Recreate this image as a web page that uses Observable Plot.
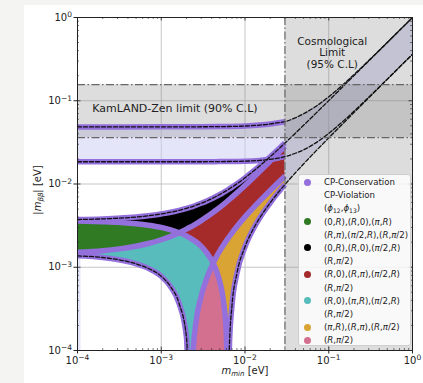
<!DOCTYPE html>
<html><head><meta charset="utf-8">
<script src="https://cdn.jsdelivr.net/npm/d3@7"></script>
<script src="https://cdn.jsdelivr.net/npm/@observablehq/plot@0.6"></script>
<style>
html,body{margin:0;padding:0;width:423px;height:383px;overflow:hidden;background:#f4f4f2;font-family:"DejaVu Sans",sans-serif;}
#card{position:absolute;left:24px;top:5px;width:399px;height:378px;background:#fff;}
#chart{position:absolute;left:0;top:0;}
.lab{position:absolute;color:#222;font-size:10px;white-space:nowrap;line-height:12px;}
.lab sub, #legend sub{font-size:70%;vertical-align:-0.3em;line-height:0;}
#xlab{left:245px;top:365px;transform:translateX(-50%);}
#ylab{left:38px;top:190px;transform:translate(-50%,-50%) rotate(-90deg);}
#legend{position:absolute;left:298px;top:174px;width:113px;height:172px;background:rgba(255,255,255,0.82);border:1px solid #cfcfcf;border-radius:3px;box-sizing:border-box;font-size:8.6px;color:#222;}
.lrow{position:absolute;left:0;height:12px;line-height:12px;white-space:nowrap;}
.lmark{position:absolute;left:5px;top:2.5px;width:7px;height:7px;border-radius:50%;}
.ltext{position:absolute;left:25px;top:0;}
</style></head><body>
<div id="card"></div>
<div id="chart"></div>
<div id="legend"></div>
<div class="lab" id="xlab"><i>m</i><sub><i>min</i></sub> [eV]</div>
<div class="lab" id="ylab">|<i>m</i><sub><i>ββ</i></sub>| [eV]</div>
<script>
// ---------- data ----------
const xTicks = [1e-4, 1e-3, 1e-2, 1e-1, 1];
const yTicks = [1e-4, 1e-3, 1e-2, 1e-1, 1];
const tickBase = "10";
const tickExponents = ["−4", "−3", "−2", "−1", "0"];

// Normal ordering, m_min < cosmological limit: four CP-conserving curves
const noMmin = [1e-4, 2e-4, 3e-4, 5e-4, 7e-4, 1e-3, 1.3e-3, 1.63e-3, 2e-3, 2.2e-3, 2.4e-3, 2.6e-3, 3e-3, 3.5e-3, 4.17e-3, 4.5e-3, 5e-3, 5.5e-3, 6e-3, 6.3e-3, 6.5e-3, 7e-3, 8e-3, 1e-2, 1.3e-2, 1.6e-2, 2e-2, 2.5e-2, 3e-2];
const noCP00 = [3.74e-3, 3.81e-3, 3.88e-3, 4.01e-3, 4.15e-3, 4.37e-3, 4.58e-3, 4.83e-3, 5.10e-3, 5.25e-3, 5.40e-3, 5.56e-3, 5.87e-3, 6.26e-3, 6.80e-3, 7.07e-3, 7.48e-3, 7.90e-3, 8.32e-3, 8.58e-3, 8.75e-3, 9.18e-3, 1.006e-2, 1.186e-2, 1.463e-2, 1.746e-2, 2.129e-2, 2.612e-2, 3.10e-2];
const noCPpp = [3.60e-3, 3.53e-3, 3.47e-3, 3.33e-3, 3.20e-3, 3.01e-3, 2.81e-3, 2.60e-3, 2.38e-3, 2.25e-3, 2.13e-3, 2.02e-3, 1.78e-3, 1.49e-3, 1.12e-3, 0.94e-3, 0.67e-3, 0.41e-3, 0.15e-3, 1e-5, 1.06e-4, 3.5e-4, 8.4e-4, 1.76e-3, 3.07e-3, 4.33e-3, 5.95e-3, 7.93e-3, 9.86e-3];
const noCPp0 = [1.37e-3, 1.31e-3, 1.24e-3, 1.10e-3, 0.97e-3, 0.78e-3, 0.58e-3, 0.37e-3, 1.44e-4, 1e-5, 0.98e-4, 2.2e-4, 4.5e-4, 7.4e-4, 1.12e-3, 1.30e-3, 1.57e-3, 1.83e-3, 2.09e-3, 2.24e-3, 2.34e-3, 2.59e-3, 3.08e-3, 4.03e-3, 5.37e-3, 6.67e-3, 8.35e-3, 1.042e-2, 1.246e-2];
const noCP0p = [1.51e-3, 1.58e-3, 1.65e-3, 1.79e-3, 1.93e-3, 2.14e-3, 2.35e-3, 2.60e-3, 2.87e-3, 3.02e-3, 3.17e-3, 3.32e-3, 3.63e-3, 4.03e-3, 4.57e-3, 4.83e-3, 5.24e-3, 5.66e-3, 6.08e-3, 6.34e-3, 6.51e-3, 6.94e-3, 7.82e-3, 9.59e-3, 1.233e-2, 1.512e-2, 1.889e-2, 2.363e-2, 2.840e-2];

// Inverted ordering, m_min < cosmological limit
const ioMmin = [1e-4, 1e-3, 3e-3, 5e-3, 1e-2, 1.5e-2, 2e-2, 2.5e-2, 3e-2];
const ioMax = [0.0485, 0.0486, 0.0487, 0.0489, 0.0497, 0.0510, 0.0526, 0.0545, 0.0560];
const ioMin = [0.0185, 0.0185, 0.0185, 0.0186, 0.0188, 0.0192, 0.0198, 0.0205, 0.0213];

// Both orderings above the cosmological limit (dashed only)
const hiMmin = [0.03, 0.04, 0.05, 0.07, 0.1, 0.15, 0.2, 0.3, 0.5, 0.7, 1];
const hiNoMax = [0.0310, 0.0408, 0.0507, 0.0705, 0.1004, 0.1503, 0.2002, 0.3002, 0.5002, 0.7002, 1.0002];
const hiNoMin = [0.00986, 0.01366, 0.01741, 0.02481, 0.03581, 0.05402, 0.07217, 0.1084, 0.1808, 0.2532, 0.3618];
const hiIoMax = [0.0560, 0.0625, 0.0698, 0.0853, 0.1115, 0.1579, 0.2060, 0.3041, 0.5025, 0.7019, 1.0014];
const hiIoMin = [0.0213, 0.0234, 0.0257, 0.0312, 0.0406, 0.0573, 0.0746, 0.1101, 0.1818, 0.2539, 0.3623];

const kamlandLimits = [0.036, 0.156];
const cosmoLimit = [0.03];
const noEdgeBand = [{x1: 1e-4, x2: 1.1e-4, y1: 1e-4, y2: 1.4e-3}];

const legendLabels = ["CP-Conservation", "CP-Violation", "(ϕ_12,ϕ_13)", "(0,R),(R,0),(π,R)", "(R,π),(π/2,R),(R,π/2)", "(0,R),(R,0),(π/2,R)", "(R,π/2)", "(R,0),(R,π),(π/2,R)", "(R,π/2)", "(R,0),(π,R),(π/2,R)", "(R,π/2)", "(π,R),(R,π),(R,π/2)", "(R,π/2)"];
const legendKeys = ["cp", null, null, "green", null, "black", null, "red", null, "cyan", null, "gold", "pink"];

// ---------- styles ----------
const col = {cp: "#9370db", green: "#2f7a22", black: "#000000", red: "#a52a2a", cyan: "#58bcbc", gold: "#d9a433", pink: "#d4708f"};
const W = 423, H = 383, mL = 77, mR = 11, mT = 17, mB = 33;
const plotW = W - mL - mR, plotH = H - mT - mB;
const FLOOR = 1e-5;

// ---------- tables ----------
const noRows = noMmin.map((x, i) => ({x, c00: noCP00[i], cpp: noCPpp[i], cp0: noCPp0[i], c0p: noCP0p[i]}));
const ioRows = ioMmin.map((x, i) => ({x, hi: ioMax[i], lo: ioMin[i]}));
const hiRows = hiMmin.map((x, i) => ({x, noHi: hiNoMax[i], noLo: hiNoMin[i], ioHi: hiIoMax[i], ioLo: hiIoMin[i]}));
const cuspL = noRows.find(d => d.cp0 === d3.min(noRows, r => r.cp0)).x;
const cuspR = noRows.find(d => d.cpp === d3.min(noRows, r => r.cpp)).x;

const noUpperDash = noRows.map(d => ({x: d.x, y: d.c00})).concat(hiRows.slice(1).map(d => ({x: d.x, y: d.noHi})));
const noLowerDashA = noRows.filter(d => d.x <= cuspL).map(d => ({x: d.x, y: d.cp0}));
const noLowerDashB = noRows.filter(d => d.x >= cuspR).map(d => ({x: d.x, y: d.cpp})).concat(hiRows.slice(1).map(d => ({x: d.x, y: d.noLo})));
const ioUpperDash = ioRows.map(d => ({x: d.x, y: d.hi})).concat(hiRows.slice(1).map(d => ({x: d.x, y: d.ioHi})));
const ioLowerDash = ioRows.map(d => ({x: d.x, y: d.lo})).concat(hiRows.slice(1).map(d => ({x: d.x, y: d.ioLo})));

const minorOf = (ticks) => {
  const out = [];
  ticks.slice(0, -1).forEach(t => { for (let k = 2; k <= 9; k++) out.push(k * t); });
  return out;
};
const xMinor = minorOf(xTicks), yMinor = minorOf(yTicks);

const curve = "monotone-x";
const region = (fill, y1, y2, rows = noRows) => Plot.areaY(rows, {x: "x", y1, y2, fill, curve, clip: true});
const purpleLine = (rows, y) => Plot.line(rows, {x: "x", y, stroke: col.cp, strokeWidth: 5.5, curve, strokeLinecap: "butt", clip: true});
const dashLine = (rows) => Plot.line(rows, {x: "x", y: "y", stroke: "#111", strokeWidth: 1.3, strokeDasharray: "4,2", curve, clip: true});
const tickFmt = (ticks) => (d) => tickBase + "^" + tickExponents[ticks.indexOf(d)];
const dashDot = "8,2.5,1.5,2.5";

const chart = Plot.plot({
  width: W, height: H,
  marginLeft: mL, marginRight: mR, marginTop: mT, marginBottom: mB,
  style: {background: "transparent", fontFamily: "'DejaVu Sans', sans-serif", color: "#222", overflow: "visible"},
  x: {type: "log", domain: [1e-4, 1]},
  y: {type: "log", domain: [1e-4, 1]},
  marks: [
    Plot.ruleX(xTicks, {x: d => d, stroke: "#b8b8b8", strokeWidth: 0.8}),
    Plot.ruleY(yTicks, {y: d => d, stroke: "#b8b8b8", strokeWidth: 0.8}),
    Plot.areaY(ioRows, {x: "x", y1: "lo", y2: "hi", fill: "#ccccf5", fillOpacity: 0.5, curve}),
    Plot.rect(noEdgeBand, {x1: "x1", x2: "x2", y1: "y1", y2: "y2", fill: "#ccccf5", fillOpacity: 0.5}),
    Plot.areaY(hiRows, {x: "x", y1: d => Math.min(d.noLo, d.ioLo), y2: d => Math.max(d.noHi, d.ioHi), fill: "#9a9ad6", fillOpacity: 0.35, curve, clip: true}),
    Plot.rect([kamlandLimits], {y1: d => d[0], y2: d => d[1], fill: "#808080", fillOpacity: 0.27}),
    Plot.rect(cosmoLimit, {x1: d => d, x2: () => xTicks[xTicks.length - 1], fill: "#808080", fillOpacity: 0.27}),
    region(col.green, d => d.c0p, d => Math.max(d.c0p, d.cpp)),
    region(col.black, d => Math.max(d.cpp, d.c0p), d => Math.max(d.cpp, d.c0p, d.c00)),
    region(col.cyan, d => d.cp0, d => Math.max(d.cp0, Math.min(d.c0p, d.cpp))),
    region(col.red, d => Math.max(d.cpp, d.cp0), d => Math.max(d.cpp, d.cp0, d.c0p)),
    region(col.gold, d => d.cpp, d => Math.max(d.cpp, d.cp0)),
    region(col.pink, () => FLOOR, d => Math.min(d.cp0, d.cpp), noRows.filter(d => d.x >= cuspL && d.x <= cuspR)),
    purpleLine(noRows, "c00"),
    purpleLine(noRows, "cpp"),
    purpleLine(noRows, "cp0"),
    purpleLine(noRows, "c0p"),
    purpleLine(ioRows, "hi"),
    purpleLine(ioRows, "lo"),
    dashLine(noUpperDash),
    dashLine(noLowerDashA),
    dashLine(noLowerDashB),
    dashLine(ioUpperDash),
    dashLine(ioLowerDash),
    Plot.ruleY(kamlandLimits, {y: d => d, stroke: "#666", strokeWidth: 1.2, strokeDasharray: dashDot}),
    Plot.ruleX(cosmoLimit, {x: d => d, stroke: "#666", strokeWidth: 1.2, strokeDasharray: dashDot}),
    Plot.text(["KamLAND-Zen limit (90% C.L)"], {x: () => 1.5e-4, y: () => 0.08, text: d => d, textAnchor: "start", fontSize: 11, fill: "#222"}),
    Plot.text(["Cosmological\nLimit\n(95% C.L)"], {x: () => 0.11, y: () => 0.38, text: d => d, textAnchor: "middle", fontSize: 10.5, lineHeight: 1.1, fill: "#222"}),
    Plot.tickX(xMinor, {x: d => d, insetTop: plotH - 2, stroke: "#222", strokeWidth: 0.6}),
    Plot.tickX(xMinor, {x: d => d, insetBottom: plotH - 2, stroke: "#222", strokeWidth: 0.6}),
    Plot.tickY(yMinor, {y: d => d, insetRight: plotW - 2, stroke: "#222", strokeWidth: 0.6}),
    Plot.tickY(yMinor, {y: d => d, insetLeft: plotW - 2, stroke: "#222", strokeWidth: 0.6}),
    Plot.tickX(xTicks, {x: d => d, insetTop: plotH - 3.5, stroke: "#222", strokeWidth: 0.8}),
    Plot.tickX(xTicks, {x: d => d, insetBottom: plotH - 3.5, stroke: "#222", strokeWidth: 0.8}),
    Plot.tickY(yTicks, {y: d => d, insetRight: plotW - 3.5, stroke: "#222", strokeWidth: 0.8}),
    Plot.tickY(yTicks, {y: d => d, insetLeft: plotW - 3.5, stroke: "#222", strokeWidth: 0.8}),
    Plot.frame({stroke: "#222", strokeWidth: 1}),
    Plot.axisX({ticks: xTicks, tickFormat: tickFmt(xTicks), tickSize: 3.5, tickPadding: 2.5, fontSize: 10, label: null, stroke: "#222"}),
    Plot.axisY({ticks: yTicks, tickFormat: tickFmt(yTicks), tickSize: 3.5, tickPadding: 2, fontSize: 10, label: null, stroke: "#222"})
  ]
});
document.getElementById("chart").appendChild(chart);

// render tick labels as 10 with a raised exponent (real text, tspans)
d3.select(chart).selectAll("text").each(function () {
  const s = this.textContent;
  if (s.startsWith(tickBase + "^")) {
    const exp = s.slice(tickBase.length + 1);
    const t = d3.select(this);
    t.text(null);
    t.append("tspan").text(tickBase);
    t.append("tspan").attr("dy", "-0.45em").attr("font-size", "7.5").text(exp);
  }
});

// ---------- legend ----------
const fmt = s => s.replace(/[Rπϕ]/g, m => `<i>${m}</i>`).replace(/_(\d+)/g, "<sub>$1</sub>");
const legend = document.getElementById("legend");
legendLabels.forEach((lab, i) => {
  const row = document.createElement("div");
  row.className = "lrow";
  row.style.top = (1 + 13.19 * i) + "px";
  row.style.width = "100%";
  const key = legendKeys[i];
  if (key) {
    const m = document.createElement("span");
    m.className = "lmark";
    m.style.background = col[key];
    row.appendChild(m);
  }
  const t = document.createElement("span");
  t.className = "ltext";
  t.innerHTML = fmt(lab);
  row.appendChild(t);
  legend.appendChild(row);
});
</script>
</body></html>
